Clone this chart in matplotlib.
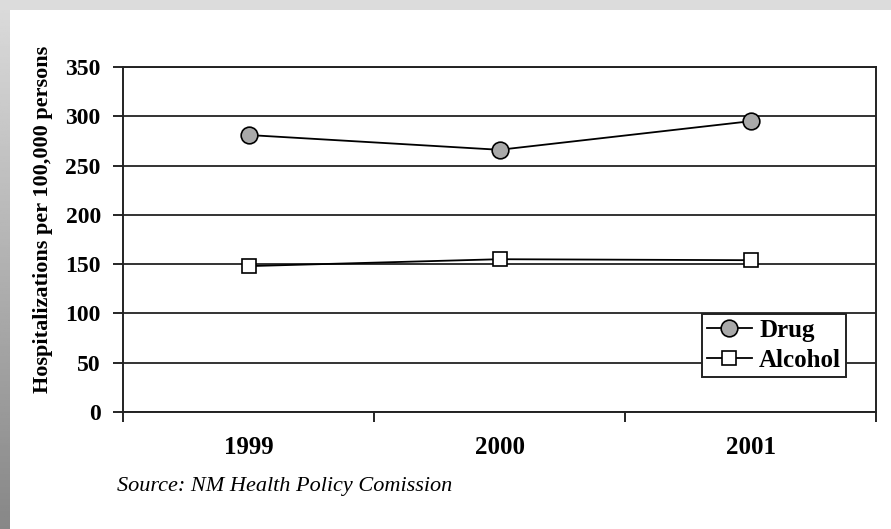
import matplotlib.pyplot as plt
import numpy as np

years = ['1999', '2000', '2001']
drug = [281, 266, 295]
alcohol = [148, 155, 154]
y_ticks = [0, 50, 100, 150, 200, 250, 300, 350]

plt.rcParams['font.family'] = ['Liberation Serif', 'DejaVu Serif']

fig = plt.figure(figsize=(8.91, 5.29), dpi=100)

# gray frame: light band on top, gradient band on the left
bg = fig.add_axes([0, 0, 1, 1], zorder=-10)
bg.set_xlim(0, 891)
bg.set_ylim(529, 0)
bg.axis('off')
bg.add_patch(plt.Rectangle((0, 0), 891, 10, color='#dcdcdc', lw=0))
grad = np.linspace(0.86, 0.53, 256).reshape(-1, 1)
bg.imshow(grad, cmap='gray', vmin=0, vmax=1, extent=[0, 10, 529, 0], aspect='auto')

ax = fig.add_axes([123 / 891, 1 - 412 / 529, (876 - 123) / 891, (412 - 67) / 529])
x = np.arange(len(years))

ax.plot(x, drug, color='black', lw=1.3, marker='o', ms=12, mfc='#a9a9a9', mec='black',
        mew=1.2, label='Drug', zorder=3)
ax.plot(x, alcohol, color='black', lw=1.3, marker='s', ms=10.5, mfc='white', mec='black',
        mew=1.2, label='Alcohol', zorder=3)

ax.set_ylim(0, 350)
ax.set_yticks(y_ticks)
ax.set_yticklabels([str(v) for v in y_ticks], fontsize=17, fontweight='bold')
ax.yaxis.grid(True, color='#333333', lw=1.4)
ax.set_axisbelow(True)
ax.tick_params(axis='y', length=7, width=1.2, pad=9, direction='out')

ax.set_xlim(-0.5, 2.5)
ax.set_xticks([-0.5, 0.5, 1.5, 2.5])
ax.set_xticklabels([])
ax.tick_params(axis='x', which='major', length=7, width=1.2, direction='out')
ax.set_xticks(x, minor=True)
ax.set_xticklabels(years, minor=True, fontsize=18, fontweight='bold')
ax.tick_params(axis='x', which='minor', length=0, pad=17)

for s in ax.spines.values():
    s.set_linewidth(1.4)
    s.set_color('#222222')

ax.set_ylabel('Hospitalizations per 100,000 persons', fontsize=16, fontweight='bold')
ax.yaxis.set_label_coords(-70 / 753, 0.557)

leg = ax.legend(loc='lower right', bbox_to_anchor=(723 / 753, 0.101),
                prop={'weight': 'bold', 'size': 18}, frameon=True, fancybox=False,
                edgecolor='#222222', framealpha=1, borderpad=0.2, labelspacing=0.3,
                handlelength=1.8, handletextpad=0.3, borderaxespad=0)
leg.get_frame().set_linewidth(1.4)

fig.text(117 / 891, 1 - 487 / 529, 'Source: NM Health Policy Comission', fontsize=16,
         style='italic', va='center', ha='left')

fig.savefig('out.png', dpi=100)
